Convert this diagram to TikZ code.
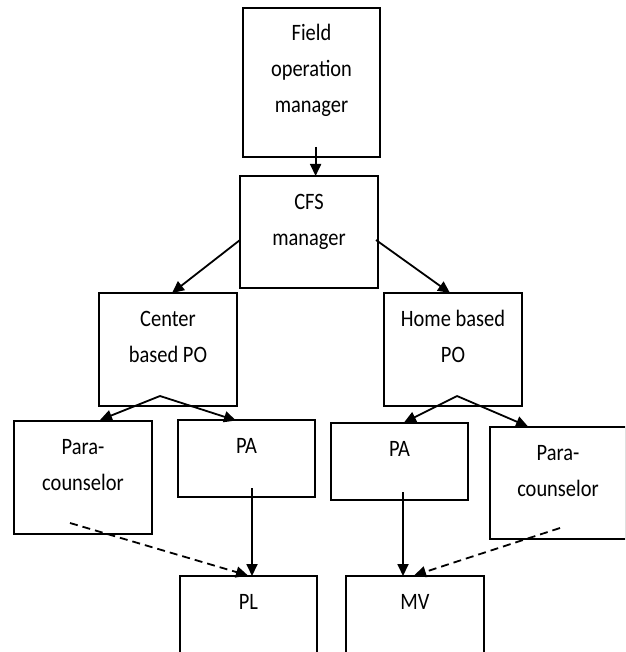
\documentclass[tikz,border=0pt]{standalone}
\usepackage{fontspec}
\setmainfont{Carlito}[FakeStretch=0.87]
\usetikzlibrary{arrows.meta,calc}
\tikzset{
  box/.style={draw, line width=1.7pt, inner sep=0pt, outer sep=0pt, rectangle},
  txt/.style={inner sep=0pt, anchor=base, font=\fontsize{23.5}{36}\selectfont},
  conn/.style={line width=1.8pt, -{Triangle[length=12pt,width=11pt]}},
  dconn/.style={conn, dash pattern=on 8pt off 5pt},
}
\newcommand{\boxat}[6]{% name, x1, y1, x2, y2, text
  \node[box, minimum width={#4-#2}, minimum height={#5-#3}] (#1) at ({(#2+#4)/2},{(#3+#5)/2}) {};
  \node[txt] (#1t) at ({(#2+#4)/2},{#3+33}) {\parbox[t]{132pt}{\centering #6}};
}
\begin{document}
\begin{tikzpicture}[x=1pt,y=-1pt]
\useasboundingbox (0,0) rectangle (625,652);
\clip (0,0) rectangle (625,652);
\boxat{b1}{243}{8}{380}{157}{Field\\operation\\manager}
\boxat{b2}{240}{176}{378}{288}{CFS\\manager}
\boxat{b3}{99}{293}{237}{406}{Center\\based PO}
\boxat{b4}{384}{293}{522}{406}{Home based\\PO}
\boxat{b5}{14}{421}{152}{534}{Para-\\counselor}
\boxat{b6}{178}{420}{315}{497}{PA}
\boxat{b7}{331}{423}{468}{500}{PA}
\boxat{b8}{490}{427}{626}{539}{Para-\\counselor}
\boxat{b9}{180}{576}{317}{664}{PL}
\boxat{b10}{346}{576}{484}{664}{MV}
% start points inside source boxes
\coordinate (s1) at (315.6,147);
\coordinate (s2l) at (240,240);
\coordinate (s2r) at (376,240);
\coordinate (s3) at (160,396);
\coordinate (s4) at (457,396);
\coordinate (s6) at (252,488);
\coordinate (s5) at (70,523);
\coordinate (s7) at (403,492);
\coordinate (s8) at (560,528);
% end points on target boxes
\coordinate (e2) at (s1 |- b2.north);
\coordinate (e3) at (172,293);
\coordinate (e4) at (450,293);
\coordinate (e5) at (100,420);
\coordinate (e6) at (236,420.5);
\coordinate (e7) at (404,422.5);
\coordinate (e8) at (528,426.5);
\coordinate (e9a) at (s6 |- b9.north);
\coordinate (e9b) at (248,575.5);
\coordinate (e10a) at (s7 |- b10.north);
\coordinate (e10b) at (414,575.5);
\draw[conn] (s1) -- (e2);
\draw[conn] (s2l) -- (e3);
\draw[conn] (s2r) -- (e4);
\draw[conn] (s3) -- (e5);
\draw[conn] (s3) -- (e6);
\draw[conn] (s4) -- (e7);
\draw[conn] (s4) -- (e8);
\draw[conn] (s6) -- (e9a);
\draw[dconn] (s5) -- (e9b);
\draw[conn] (s7) -- (e10a);
\draw[dconn] (s8) -- (e10b);
\end{tikzpicture}
\end{document}
